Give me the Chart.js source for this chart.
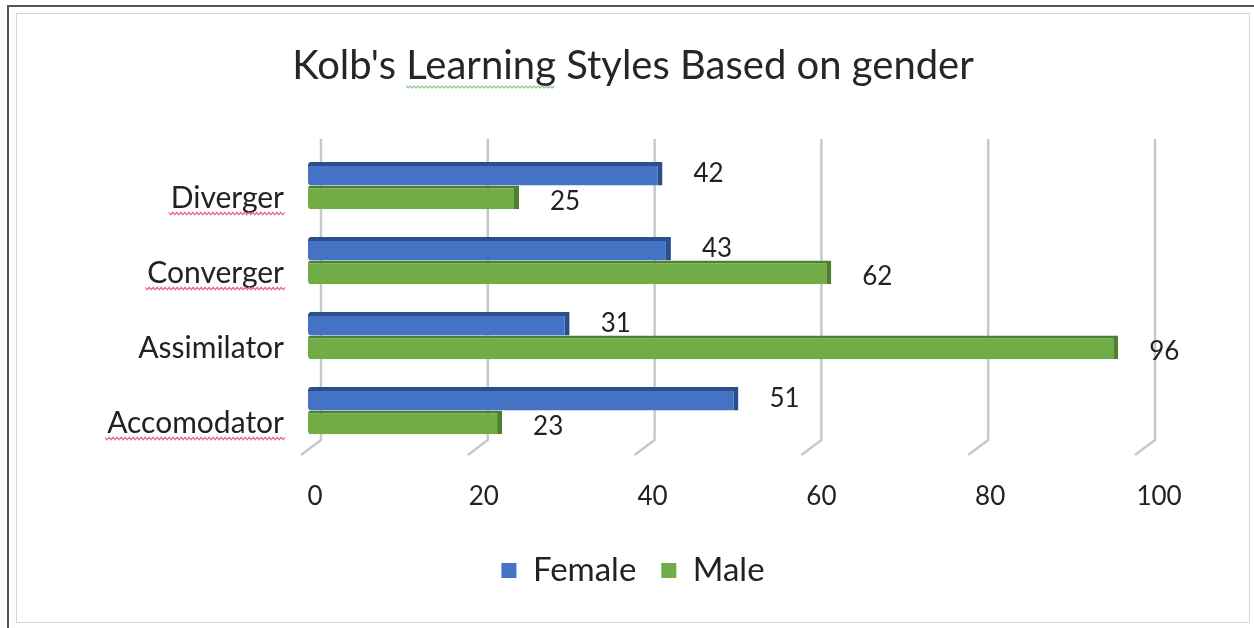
<!DOCTYPE html>
<html>
<head>
<meta charset="utf-8">
<script src="https://cdn.jsdelivr.net/npm/chart.js@4.4.1/dist/chart.umd.min.js"></script>
<style>
  html, body { margin: 0; padding: 0; background: #ffffff; }
  #wrap { position: relative; width: 1254px; height: 628px; overflow: hidden; }
  #frameOuter { position: absolute; left: 7px; top: 5px; right: -4px; bottom: -4px; border-left: 2px solid #555; border-top: 2px solid #555; }
  #frameInner { position: absolute; left: 16px; top: 13px; width: 1232px; height: 608px; border: 1px solid #d4d4d4; }
  canvas { position: absolute; left: 0; top: 0; }
</style>
</head>
<body>
<div id="wrap">
  <div id="frameOuter"></div>
  <div id="frameInner"></div>
  <canvas id="c" width="1254" height="628"></canvas>
</div>
<script>
const chartTitle = "Kolb's Learning Styles Based on gender";
const categories = ["Diverger", "Converger", "Assimilator", "Accomodator"];
const femaleValues = [42, 43, 31, 51];
const maleValues = [25, 62, 96, 23];
const seriesNames = ["Female", "Male"];
const xTicks = [0, 20, 40, 60, 80, 100];
const misspelled = ["Diverger", "Converger", "Accomodator"];

const FONT = "Lato, 'Noto Sans', sans-serif";
const TITLE_SIZE = 40;
const CAT_LABEL_OFFSET = 13;

const gridPlugin = {
  id: 'grid3d',
  beforeDatasetsDraw(chart) {
    const ctx = chart.ctx, xs = chart.scales.x, area = chart.chartArea;
    ctx.save();
    ctx.strokeStyle = '#c8c8c8';
    ctx.lineWidth = 2.5;
    ctx.lineJoin = 'round';
    xs.ticks.forEach(t => {
      const v = t.value;
      const gx = xs.getPixelForValue(v) + 13 - 0.1 * v;
      ctx.beginPath();
      ctx.moveTo(gx, area.top - 9);
      ctx.lineTo(gx, area.bottom - 8);
      ctx.lineTo(gx - 20, area.bottom + 7);
      ctx.stroke();
    });
    ctx.restore();
  }
};

const labelPlugin = {
  id: 'valueLabels',
  afterDatasetsDraw(chart) {
    const ctx = chart.ctx;
    ctx.save();
    ctx.font = "26px " + FONT;
    ctx.fillStyle = '#222';
    ctx.textAlign = 'left';
    ctx.textBaseline = 'middle';
    chart.data.datasets.forEach((ds, di) => {
      const meta = chart.getDatasetMeta(di);
      meta.data.forEach((bar, i) => {
        const dy = di === 0 ? 0 : 4;
        ctx.fillText(String(ds.data[i]), bar.x + 31, bar.y + dy);
      });
    });
    ctx.restore();
  }
};

const squigglePlugin = {
  id: 'squiggle',
  afterDraw(chart) {
    const ctx = chart.ctx, ys = chart.scales.y;
    ctx.save();
    ctx.font = "30px " + FONT;
    ctx.strokeStyle = '#e8738a';
    ctx.lineWidth = 1.2;
    categories.forEach((c, i) => {
      if (!misspelled.includes(c)) return;
      const w = ctx.measureText(c).width;
      const right = ys.right - 24;
      const y = ys.getPixelForTick(i) + CAT_LABEL_OFFSET + 15;
      ctx.beginPath();
      for (let x = right - w - 2, k = 0; x <= right + 2; x += 2, k++) {
        const yy = y + (k % 2 ? 1.2 : -1.2);
        if (k === 0) ctx.moveTo(x, yy); else ctx.lineTo(x, yy);
      }
      ctx.stroke();
    });
    const t = chart.titleBlock;
    if (t) {
      ctx.font = TITLE_SIZE + "px " + FONT;
      const full = ctx.measureText(chartTitle).width;
      const pre = ctx.measureText("Kolb's ").width;
      const wl = ctx.measureText("Learning").width;
      const cx = (t.left + t.right) / 2;
      const x0 = cx - full / 2 + pre;
      const y = (t.top + t.bottom) / 2 + 13;
      ctx.strokeStyle = '#8fc08f';
      ctx.beginPath();
      for (let x = x0, k = 0; x <= x0 + wl; x += 2, k++) {
        const yy = y + (k % 2 ? 1 : -1);
        if (k === 0) ctx.moveTo(x, yy); else ctx.lineTo(x, yy);
      }
      ctx.stroke();
    }
    ctx.restore();
  }
};

const colors = {
  female: { fill: '#4472C4', edge: '#2B4E8C' },
  male: { fill: '#70AD47', edge: '#4F7F31' }
};

new Chart(document.getElementById('c'), {
  type: 'bar',
  data: {
    labels: categories,
    datasets: [
      {
        label: seriesNames[0],
        data: femaleValues,
        backgroundColor: colors.female.fill,
        borderColor: colors.female.edge,
        borderWidth: { top: 4, right: 5, bottom: 0, left: 0 },
        borderSkipped: false,
        borderRadius: { topLeft: 3, bottomLeft: 3, topRight: 0, bottomRight: 0 },
        barPercentage: 1.0,
        categoryPercentage: 0.63
      },
      {
        label: seriesNames[1],
        data: maleValues,
        backgroundColor: colors.male.fill,
        borderColor: colors.male.edge,
        borderWidth: { top: 3, right: 5, bottom: 0, left: 0 },
        borderSkipped: false,
        borderRadius: { topLeft: 3, bottomLeft: 3, topRight: 0, bottomRight: 0 },
        barPercentage: 1.0,
        categoryPercentage: 0.63
      }
    ]
  },
  options: {
    indexAxis: 'y',
    responsive: false,
    animation: false,
    events: [],
    layout: { padding: { left: 12, right: 0, top: 0, bottom: 31 } },
    scales: {
      x: {
        min: 0, max: 100,
        afterBuildTicks(axis) { axis.ticks = xTicks.map(v => ({ value: v })); },
        afterFit(axis) { axis.height = 81; },
        grid: { display: false, drawTicks: false },
        border: { display: false },
        ticks: { font: { family: FONT, size: 26 }, color: '#222', padding: 33, labelOffset: 7 }
      },
      y: {
        grid: { display: false, drawTicks: false },
        border: { display: false },
        afterFit(axis) { axis.width = 296; },
        ticks: { font: { family: FONT, size: 30 }, color: '#222', padding: 24, labelOffset: CAT_LABEL_OFFSET }
      },
      yRight: {
        type: 'category',
        position: 'right',
        grid: { display: false, drawTicks: false },
        border: { display: false },
        ticks: { display: false },
        afterFit(axis) { axis.width = 102; }
      }
    },
    plugins: {
      title: {
        display: true,
        text: chartTitle,
        color: '#262626',
        font: { family: FONT, size: TITLE_SIZE, weight: 'normal' },
        padding: { top: 42, bottom: 58 }
      },
      legend: {
        position: 'bottom',
        labels: {
          font: { family: FONT, size: 33 },
          color: '#222',
          boxWidth: 15,
          boxHeight: 15,
          padding: 25,
          generateLabels(chart) {
            return chart.data.datasets.map((d, i) => ({
              text: d.label, fillStyle: d.backgroundColor, strokeStyle: d.backgroundColor,
              lineWidth: 0, hidden: false, datasetIndex: i, fontColor: '#222'
            }));
          }
        }
      },
      tooltip: { enabled: false }
    }
  },
  plugins: [gridPlugin, labelPlugin, squigglePlugin]
});
</script>
</body>
</html>
